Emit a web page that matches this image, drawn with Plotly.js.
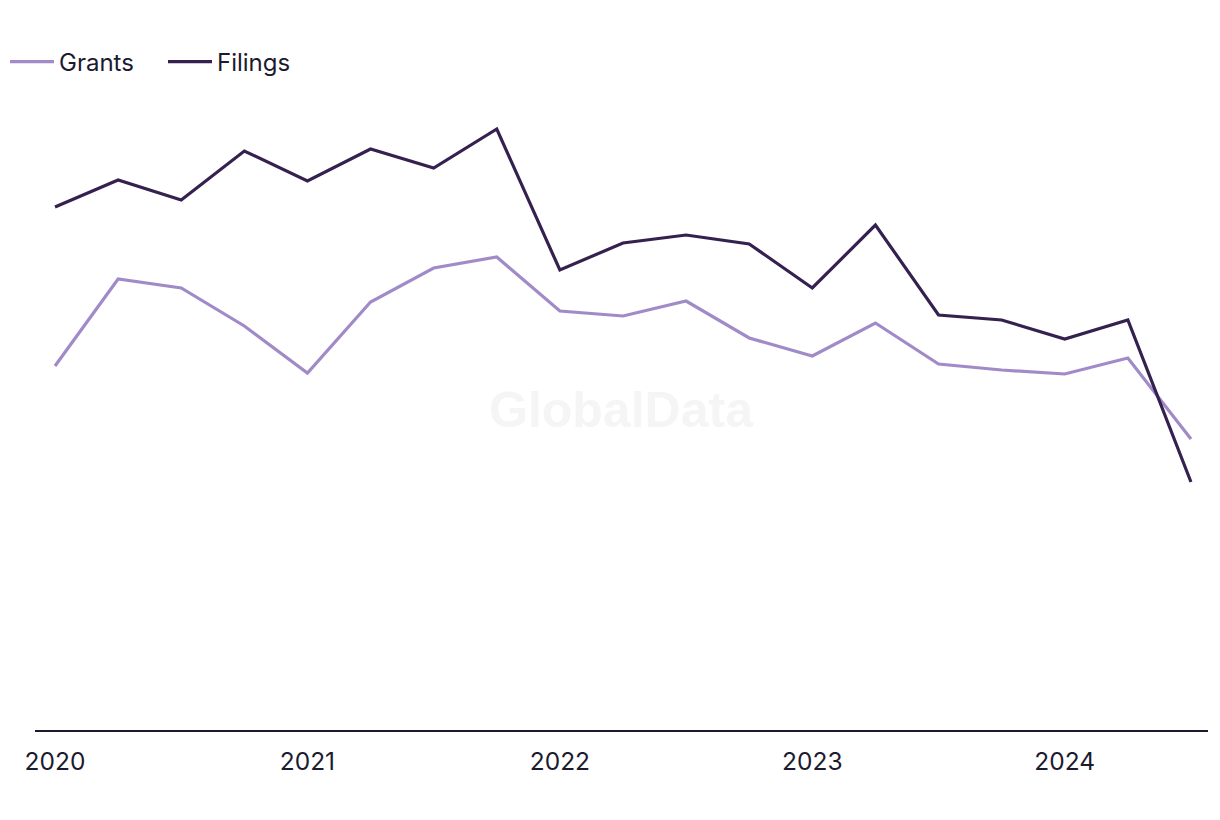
<!DOCTYPE html>
<html>
<head>
<meta charset="utf-8">
<script src="https://cdn.plot.ly/plotly-3.0.1.min.js"></script>
<style>html,body{margin:0;padding:0;background:#fff;}#chart{width:1220px;height:820px;}</style>
</head>
<body>
<div id="chart"></div>
<script>
const quarters = ["2020 Q1","2020 Q2","2020 Q3","2020 Q4","2021 Q1","2021 Q2","2021 Q3","2021 Q4","2022 Q1","2022 Q2","2022 Q3","2022 Q4","2023 Q1","2023 Q2","2023 Q3","2023 Q4","2024 Q1","2024 Q2","2024 Q3"];
const grants = [364,451,442,404,357,428,462,473,419,414,429,392,374,407,366,360,356,372,291];
const filings = [523,550,530,579,549,581,562,601,460,487,495,486,442,505,415,410,391,410,248];
const tickLabels = ["2020","2021","2022","2023","2024"];

const idx = quarters.map((q,i)=>i);
const tickIdx = tickLabels.map(y => quarters.indexOf(y + " Q1"));

const data = [
  {x: idx, y: grants, name: "Grants", type: "scatter", mode: "lines",
   line: {color: "#a08bc8", width: 3.2}, text: quarters, hoverinfo: "text+y"},
  {x: idx, y: filings, name: "Filings", type: "scatter", mode: "lines",
   line: {color: "#35214f", width: 3.2}, text: quarters, hoverinfo: "text+y"}
];

const layout = {
  width: 1220, height: 820,
  margin: {l: 35, r: 12, t: 90, b: 90},
  paper_bgcolor: "#fff", plot_bgcolor: "#fff",
  font: {family: "Inter, 'Open Sans', sans-serif", color: "#1b1a2e", size: 24},
  showlegend: true,
  legend: {orientation: "h", xref: "container", yref: "container", x: 5/1220, xanchor: "left",
           y: 1 - 62/820, yanchor: "middle", itemwidth: 44, entrywidth: 99,
           font: {size: 24, color: "#1b1a2e"}, traceorder: "normal", bgcolor: "rgba(0,0,0,0)"},
  xaxis: {range: [-0.317, 18.27], tickvals: tickIdx, ticktext: tickLabels,
          showgrid: false, zeroline: false, showline: true, linecolor: "#1b1a2e", linewidth: 2,
          ticks: "outside", ticklen: 9, tickcolor: "rgba(0,0,0,0)", fixedrange: true,
          tickfont: {size: 24.5}},
  yaxis: {range: [0, 640], showgrid: false, zeroline: false, showline: false,
          showticklabels: false, ticks: "", fixedrange: true},
  annotations: [{text: "<b>GlobalData</b>", xref: "paper", yref: "paper", x: 0.5, y: 0.5,
                 showarrow: false, font: {size: 50, color: "#f5f5f5", family: "Liberation Sans, Arial, sans-serif"}}]
};

Plotly.newPlot("chart", data, layout, {displayModeBar: false, staticPlot: true});
</script>
</body>
</html>
